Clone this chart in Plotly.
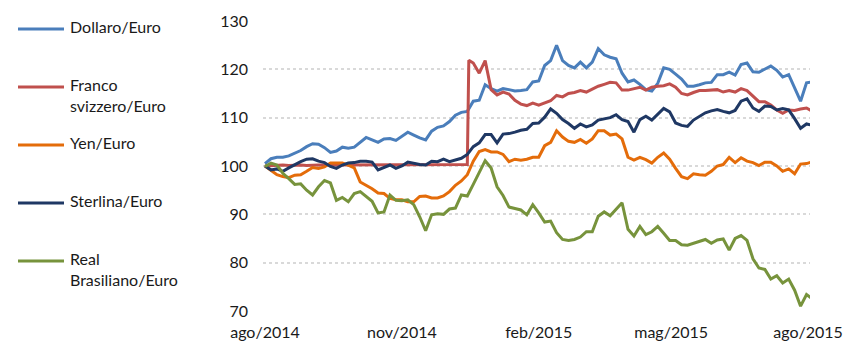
import pandas as pd
import plotly.graph_objects as go

# Exchange-rate indices (base 100 at the start), sampled every 4 days
dates = pd.date_range("2014-08-01", periods=93, freq="4D")

dollaro = [
    100.5, 101.5, 101.8, 101.8, 102.1, 102.6, 103.2, 104.0, 104.6, 104.5,
    103.8, 102.8, 103.1, 103.9, 103.7, 103.9, 105.0, 105.9, 105.4, 104.9,
    105.6, 105.7, 105.3, 106.2, 107.0, 106.4, 105.8, 105.4, 107.2, 108.0,
    108.3, 109.2, 110.5, 111.1, 111.3, 113.4, 113.6, 116.8, 116.0, 115.5,
    116.0, 115.8, 115.5, 115.6, 115.8, 117.4, 117.6, 120.8, 121.8, 125.0,
    121.8, 120.8, 120.3, 121.5, 120.3, 121.5, 124.3, 123.0, 122.5, 122.2,
    119.2, 117.4, 117.8, 116.9, 115.8, 115.5, 117.1, 120.3, 120.0, 119.0,
    118.0, 116.5, 116.5, 116.8, 117.2, 117.3, 118.9, 118.9, 119.4, 118.8,
    121.0, 121.3, 119.5, 119.4, 120.0, 120.7, 119.8, 118.4, 118.9, 116.3,
    113.4, 117.2, 117.4,
]

# Swiss franc: pegged until the mid-December jump (extra observation on the jump day)
franco_dates = list(dates[:35]) + [pd.Timestamp("2014-12-16")] + list(dates[35:])
franco = [
    100.0, 100.1, 100.1, 100.2, 100.1, 100.2, 100.2, 100.1, 100.2, 100.2,
    100.2, 100.3, 100.2, 100.2, 100.3, 100.2, 100.2, 100.3, 100.2, 100.3,
    100.2, 100.3, 100.2, 100.3, 100.3, 100.2, 100.3, 100.3, 100.3, 100.2,
    100.3, 100.3, 100.3, 100.3, 100.3,
    121.9,
    121.3, 119.2, 121.8, 115.8, 114.7, 115.3, 114.9, 113.6, 112.8, 112.5,
    113.0, 112.6, 113.0, 113.5, 114.6, 114.3, 115.0, 115.2, 115.6, 115.3,
    115.9, 116.5, 116.9, 117.3, 117.2, 115.7, 115.7, 116.0, 116.3, 115.7,
    116.3, 116.5, 116.6, 117.0, 116.3, 115.0, 114.7, 115.2, 115.6, 115.6,
    115.7, 115.8, 115.3, 115.6, 115.3, 116.0, 115.6, 114.4, 113.3, 113.3,
    112.6, 111.6, 110.9, 111.6, 111.5, 111.8, 112.0, 111.3,
]

yen = [
    100.0, 99.1, 98.2, 97.8, 97.6, 98.1, 98.2, 98.9, 99.7, 99.5,
    99.8, 100.6, 100.6, 100.6, 100.2, 99.6, 96.7, 96.0, 95.3, 94.4,
    94.3, 93.3, 93.0, 93.0, 92.6, 92.6, 93.7, 93.8, 93.4, 93.4,
    93.8, 94.7, 96.0, 96.9, 98.2, 101.0, 103.0, 103.4, 102.9, 102.9,
    102.4, 100.9, 101.4, 101.2, 101.4, 101.8, 101.8, 104.2, 104.9, 107.3,
    106.0, 105.1, 104.9, 105.5, 104.7, 105.6, 107.3, 107.3, 106.4, 106.6,
    105.6, 101.8, 101.2, 101.8, 101.3, 100.6, 101.8, 102.7, 101.4, 99.5,
    97.8, 97.4, 98.4, 98.2, 98.1, 98.9, 100.0, 100.3, 101.8, 100.7,
    101.7, 101.0, 100.7, 100.1, 100.8, 100.8, 100.0, 98.9, 99.4, 98.4,
    100.4, 100.5, 100.9,
]

sterlina = [
    100.0, 99.2, 99.4, 98.9, 99.6, 100.3, 100.9, 101.4, 101.5, 101.0,
    100.7, 99.9, 99.5, 100.2, 100.6, 100.7, 101.0, 101.0, 100.8, 99.2,
    99.7, 100.2, 99.5, 100.0, 100.8, 100.5, 100.3, 100.2, 101.0, 100.9,
    101.4, 100.9, 101.3, 101.6, 102.4, 104.0, 104.8, 106.5, 106.5, 104.8,
    106.6, 106.7, 107.0, 107.4, 107.6, 108.8, 108.9, 110.1, 111.8, 110.9,
    109.6, 108.8, 107.8, 108.7, 108.1, 108.5, 109.5, 109.8, 110.0, 110.6,
    109.6, 109.2, 107.0, 109.6, 110.3, 109.5, 110.8, 111.9, 111.2, 108.9,
    108.4, 108.2, 109.5, 110.2, 111.0, 111.4, 111.7, 111.3, 111.0, 111.5,
    113.4, 113.9, 112.0, 111.3, 112.4, 112.3, 111.6, 111.9, 111.6, 109.8,
    107.8, 108.7, 108.4,
]

real = [
    99.9, 100.6, 100.2, 98.5, 97.4, 96.2, 96.3, 95.0, 94.0, 95.7,
    97.0, 96.5, 92.9, 93.5, 92.6, 94.3, 94.7, 93.6, 92.7, 90.3,
    90.5, 94.0, 92.9, 92.8, 93.0, 92.0, 89.5, 86.6, 89.9, 90.1,
    90.0, 91.1, 91.3, 94.0, 93.8, 96.2, 98.8, 101.1, 99.6, 95.7,
    93.9, 91.5, 91.2, 90.9, 89.9, 92.0, 90.3, 88.4, 88.6, 86.2,
    84.8, 84.6, 84.8, 85.3, 86.4, 86.4, 89.6, 90.5, 89.7, 91.0,
    92.4, 86.9, 85.5, 87.5, 85.8, 86.4, 87.5, 86.1, 84.6, 84.6,
    83.7, 83.6, 84.0, 84.4, 84.8, 84.0, 84.7, 84.9, 82.6, 85.0,
    85.6, 84.6, 80.8, 78.9, 78.6, 76.6, 77.3, 75.8, 76.6, 74.3,
    71.0, 73.4, 72.5,
]

series_names = [
    "Dollaro/Euro",
    "Franco<br>svizzero/Euro",
    "Yen/Euro",
    "Sterlina/Euro",
    "Real<br>Brasiliano/Euro",
]
series_x = [dates, franco_dates, dates, dates, dates]
series_y = [dollaro, franco, yen, sterlina, real]
series_colors = ["#4a7ebb", "#c0504d", "#e46c0a", "#1f3864", "#77933c"]

tick_dates = ["2014-08-01", "2014-11-01", "2015-02-01", "2015-05-01", "2015-08-01"]
tick_labels = ["ago/2014", "nov/2014", "feb/2015", "mag/2015", "ago/2015"]

# Page geometry (pixels)
W, H = 850, 344
ML, MR, MT, MB = 263, 40, 21, 33
PW, PH = W - ML - MR, H - MT - MB

FONT = "Lato"
TEXT_COLOR = "#1a1a1a"

fig = go.Figure()
for name, xs, ys, color in zip(series_names, series_x, series_y, series_colors):
    fig.add_trace(go.Scatter(
        x=xs, y=ys, mode="lines", name=name.replace("<br>", " "),
        line=dict(color=color, width=3), showlegend=False,
    ))

# Legend drawn at the left: a line sample and a label per series
def paper_x(px):
    return (px - ML) / PW

def paper_y(py):
    return (H - MB - py) / PH

legend_rows = [29, 87, 145, 203, 261]
for name, color, row in zip(series_names, series_colors, legend_rows):
    fig.add_shape(type="line", xref="paper", yref="paper",
                  x0=paper_x(18), x1=paper_x(64), y0=paper_y(row), y1=paper_y(row),
                  line=dict(color=color, width=3))
    fig.add_annotation(text=name, xref="paper", yref="paper",
                       x=paper_x(69), y=paper_y(row - 13),
                       xanchor="left", yanchor="top", align="left",
                       showarrow=False, borderpad=0,
                       font=dict(family=FONT, size=16, color=TEXT_COLOR))

fig.update_layout(
    width=W, height=H,
    margin=dict(l=ML, r=MR, t=MT, b=MB, autoexpand=False),
    paper_bgcolor="white", plot_bgcolor="white",
    font=dict(family=FONT, size=16, color=TEXT_COLOR),
    showlegend=False,
)
fig.update_xaxes(
    type="date",
    range=["2014-07-30 16:00", "2015-08-02 08:00"],
    tickvals=tick_dates, ticktext=tick_labels,
    showgrid=False, showline=False, zeroline=False, ticks="",
    ticklabelstandoff=10, automargin=False,
    tickfont=dict(family=FONT, size=16, color=TEXT_COLOR),
)
fig.update_yaxes(
    range=[70, 130], dtick=10, tick0=70,
    showgrid=True, gridcolor="#d9d9d9", gridwidth=1.5, griddash="dot",
    showline=False, zeroline=False, ticks="",
    ticklabelstandoff=14, automargin=False,
    tickfont=dict(family=FONT, size=16, color=TEXT_COLOR),
)

fig.write_html("out.html")
